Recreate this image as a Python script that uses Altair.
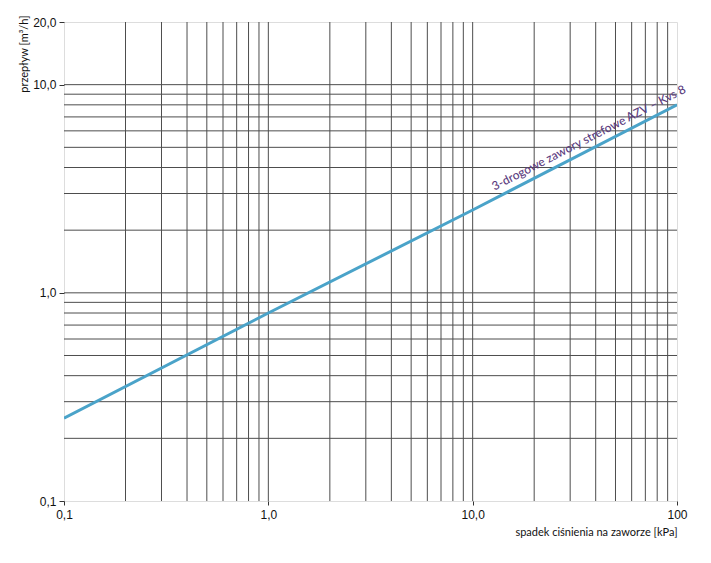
import altair as alt
import pandas as pd

# line data
dp = [0.1, 1.0, 10.0, 100.0]
flow = [0.25, 0.8, 2.5, 8.0]

x_grid = [0.2, 0.3, 0.4, 0.5, 0.6, 0.7, 0.8, 0.9, 1, 2, 3, 4, 5, 6, 7, 8, 9, 10,
          20, 30, 40, 50, 60, 70, 80, 90]
y_grid = [0.2, 0.3, 0.4, 0.5, 0.6, 0.7, 0.8, 0.9, 1, 2, 3, 4, 5, 6, 7, 8, 9, 10]
x_major = [0.1, 1, 10, 100]
y_major = [0.1, 1, 10, 20]
label_text = "3-drogowe zawory strefowe AZV – Kvs 8"
label_x = [37.0]
label_y = [5.55]

xs = alt.Scale(type="log", domain=[0.1, 100])
ys = alt.Scale(type="log", domain=[0.1, 20])

fmt = "datum.value == 0.1 ? '0,1' : datum.value == 1 ? '1,0' : datum.value == 10 ? '10,0' : datum.value == 20 ? '20,0' : format(datum.value, 'd')"

GRID = "#4d4d4d"

vgrid = alt.Chart(pd.DataFrame({"x": x_grid})).mark_rule(color=GRID, strokeWidth=1).encode(
    x=alt.X("x:Q", scale=xs)
)
hgrid = alt.Chart(pd.DataFrame({"y": y_grid})).mark_rule(color=GRID, strokeWidth=1).encode(
    y=alt.Y("y:Q", scale=ys)
)

line = alt.Chart(pd.DataFrame({"dp": dp, "flow": flow})).mark_line(
    color="#4aa3c9", strokeWidth=3, clip=True
).encode(
    x=alt.X("dp:Q", scale=xs, axis=alt.Axis(
        values=x_major, grid=False, labelExpr=fmt, title="spadek ciśnienia na zaworze [kPa]",
        titleX=613, titleY=31, titleAlign="right", titleBaseline="middle",
        titleFont="Lato", titleFontSize=11, titleFontWeight="normal", titleColor="#111",
        labelFont="Liberation Sans", labelFontSize=12, labelColor="#111", labelFlush=False,
        tickSize=4, tickColor="#333", labelPadding=4, domain=False,
    )),
    y=alt.Y("flow:Q", scale=ys, axis=alt.Axis(
        values=y_major, grid=False, labelExpr=fmt, title="przepływ [m³/h]",
        titleAngle=270, titleX=-40, titleY=-7, titleAlign="right", titleBaseline="middle",
        titleFont="Lato", titleFontSize=11, titleFontWeight="normal", titleColor="#111",
        labelFont="Liberation Sans", labelFontSize=12, labelColor="#111", labelFlush=False,
        tickSize=5, tickColor="#333", labelPadding=3, domain=False,
    )),
)

label = alt.Chart(pd.DataFrame({"x": label_x, "y": label_y, "t": [label_text]})).mark_text(
    color="#5b3c7e", font="Lato", fontSize=12, fontWeight=500, angle=332.8,
    align="center", baseline="middle"
).encode(
    x=alt.X("x:Q", scale=xs),
    y=alt.Y("y:Q", scale=ys),
    text="t:N",
)

chart = alt.layer(vgrid, hgrid, line, label).properties(
    width=613, height=479,
    autosize=alt.AutoSizeParams(type="none"),
    padding={"left": 56, "top": 14, "right": 18, "bottom": 46},
).configure_view(stroke=GRID, strokeWidth=1).configure(background="white")

chart.save("out.html", embed_options={"renderer": "svg", "actions": False})
